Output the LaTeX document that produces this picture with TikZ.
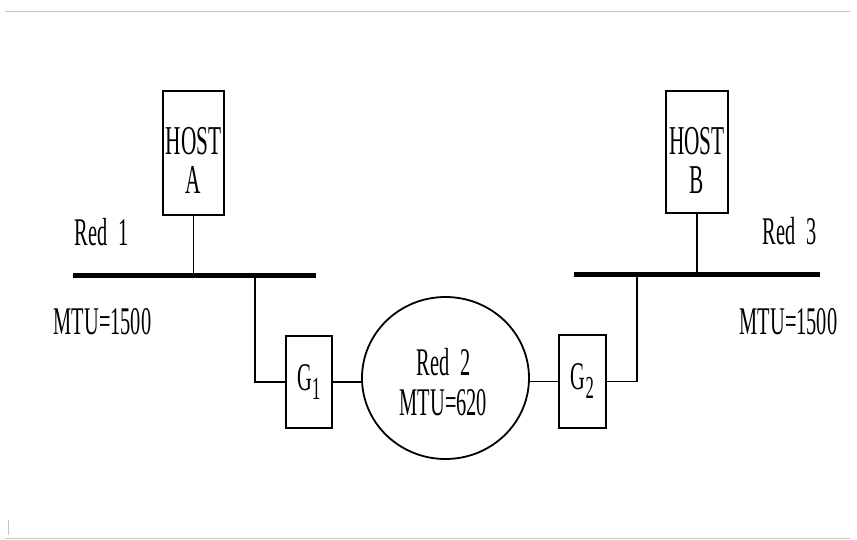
\documentclass[tikz,border=0pt]{standalone}
\usepackage{fontspec}
\setmainfont[FakeStretch=0.52]{Liberation Serif}
\usetikzlibrary{shapes.geometric}
\begin{document}
\begin{tikzpicture}[x=0.5pt,y=-0.5pt,
  hostbox/.style={draw, line width=0.9pt, inner sep=0pt},
  hosttext/.style={inner sep=0pt, align=center, anchor=north,
    font=\fontsize{20.5}{19.5}\selectfont},
  gbox/.style={draw, line width=0.9pt, inner sep=0pt,
    font=\fontsize{19.6}{20}\selectfont},
  netell/.style={ellipse, draw, line width=0.9pt, inner sep=0pt},
  nettext/.style={inner sep=0pt, align=center, anchor=north,
    font=\fontsize{19.6}{20}\selectfont},
  bus/.style={line width=2.5pt},
  wire/.style={line width=0.7pt},
  lbl/.style={inner sep=0pt, font=\fontsize{19.6}{20}\selectfont},
  scan/.style={gray!45, line width=0.5pt}]
\useasboundingbox (0,0) rectangle (857,540);

% faint scan edges
\draw[scan] (5,12) -- (850,12);
\draw[scan] (5,538) -- (850,538);
\draw[scan, line width=0.4pt] (8,520) -- (8,535);

% hosts
\node[hostbox, minimum width=30.5pt, minimum height=62pt] (hostA) at (193.5,153) {};
\node[hostbox, minimum width=31pt, minimum height=61pt] (hostB) at (697,152) {};
\node[hosttext] (hostAt) at (193.5,127) {HOST\\A};
\node[hosttext] (hostBt) at (697,127) {HOST\\B};

% gateways
\node[gbox, minimum width=23pt, minimum height=46pt] (G1) at (309,382) {G\raisebox{-4.5pt}{\fontsize{16}{16}\selectfont 1}};
\node[gbox, minimum width=23.5pt, minimum height=46.5pt] (G2) at (582.5,381.5) {G\raisebox{-4.5pt}{\fontsize{16}{16}\selectfont 2}};

% network 2
\node[netell, minimum width=83.5pt, minimum height=81pt] (red2) at (445.5,378) {};
\node[nettext] (red2t) at (443.5,348) {Red\hspace{0.15em} 2\\MTU=620};

% buses
\coordinate (b1l) at (73,275);
\coordinate (b1r) at (316,275);
\coordinate (b3l) at (574,274);
\coordinate (b3r) at (820,274);
\coordinate (d1) at (255,275);
\coordinate (d3) at (637,274);
\draw[bus] (b1l) -- (b1r);
\draw[bus] (b3l) -- (b3r);

% connectors
\draw[wire] (hostA.south) -- (hostA.south |- b1l);
\draw[wire] (d1) |- (G1.west);
\draw[wire] (G1.east) -- (G1.east -| red2.west);
\draw[wire] (G2.west -| red2.east) -- (G2.west);
\draw[wire] (G2.east) -| (d3);
\draw[wire] (hostB.south) -- (hostB.south |- b3l);

% labels
\node[lbl] (r1) at (101.5,232.5) {Red\hspace{0.15em} 1};
\node[lbl] (m1) at (102.5,322) {MTU=1500};
\node[lbl] (r3) at (789.5,231) {Red\hspace{0.15em} 3};
\node[lbl] (m3) at (788.5,322) {MTU=1500};
\end{tikzpicture}
\end{document}
